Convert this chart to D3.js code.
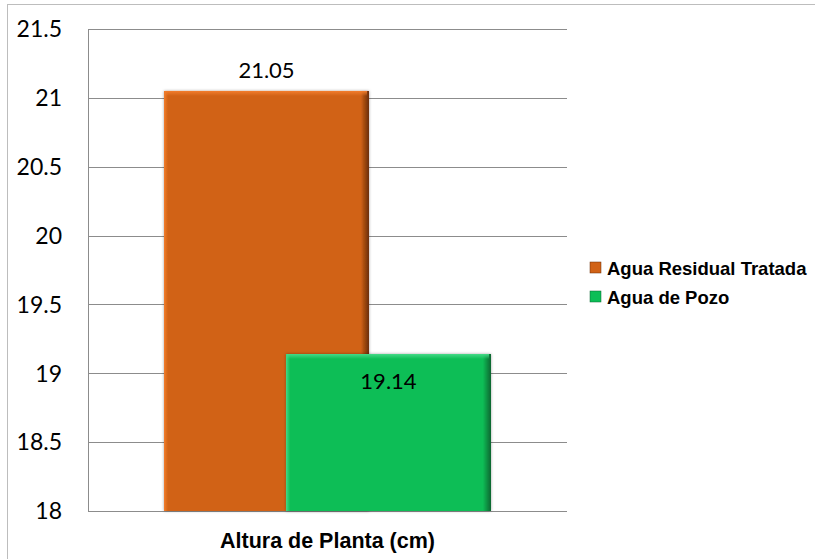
<!DOCTYPE html>
<html><head><meta charset="utf-8">
<script src="https://cdn.jsdelivr.net/npm/d3@7"></script>
<style>html,body{margin:0;padding:0;background:#fff;}svg{display:block;}</style>
</head><body>
<svg id="chart" width="815" height="559"></svg>
<script>
const categories = ["Altura de Planta (cm)"];
const seriesNames = ["Agua Residual Tratada", "Agua de Pozo"];
const seriesValues = [21.05, 19.14];
const seriesLabels = ["21.05", "19.14"];
const yTicks = [18, 18.5, 19, 19.5, 20, 20.5, 21, 21.5];
const yTickLabels = ["18", "18.5", "19", "19.5", "20", "20.5", "21", "21.5"];
const colors = [
  {base: "#D16216", light: "#F27D2C", dark: "#6A2D06"},
  {base: "#0BBE56", light: "#45D987", dark: "#0A6630"}
];

const svg = d3.select("#chart");
const defs = svg.append("defs");
colors.forEach((c, i) => {
  const g = defs.append("linearGradient").attr("id", "hg" + i).attr("x1", 0).attr("x2", 1).attr("y1", 0).attr("y2", 0);
  g.append("stop").attr("offset", "0%").attr("stop-color", c.light);
  g.append("stop").attr("offset", "2%").attr("stop-color", c.base);
  g.append("stop").attr("offset", "96%").attr("stop-color", c.base);
  g.append("stop").attr("offset", "100%").attr("stop-color", c.dark);
  const v = defs.append("linearGradient").attr("id", "vg" + i).attr("x1", 0).attr("x2", 0).attr("y1", 0).attr("y2", 1);
  v.append("stop").attr("offset", "0%").attr("stop-color", c.light).attr("stop-opacity", 1);
  v.append("stop").attr("offset", "100%").attr("stop-color", c.light).attr("stop-opacity", 0);
});
const f = defs.append("filter").attr("id", "sh").attr("x", "-10%").attr("y", "-10%").attr("width", "120%").attr("height", "120%");
f.append("feDropShadow").attr("dx", 0).attr("dy", 0).attr("stdDeviation", 1.5).attr("flood-color", "#000").attr("flood-opacity", 0.35);

// outer chart border
svg.append("rect").attr("x", 7.5).attr("y", 4.5).attr("width", 830).attr("height", 570)
  .attr("fill", "none").attr("stroke", "#BDBDBD").attr("stroke-width", 1);

const plot = {left: 88, right: 567, top: 29, bottom: 511};
const y = d3.scaleLinear().domain([18, 21.5]).range([plot.bottom, plot.top]);
const x = d3.scaleBand().domain(categories).range([plot.left, plot.right]).paddingInner(0).paddingOuter(0);
const barW = x.bandwidth() * 0.428;
const sx = d3.scalePoint().domain(seriesNames).range([-barW * 0.2975, barW * 0.2975]);

// gridlines
svg.append("g").selectAll("line").data(yTicks).join("line")
  .attr("x1", plot.left).attr("x2", plot.right)
  .attr("y1", d => Math.round(y(d)) + 0.5).attr("y2", d => Math.round(y(d)) + 0.5)
  .attr("stroke", "#8C8C8C").attr("stroke-width", 1);

// axis line
svg.append("line").attr("x1", plot.left + 0.5).attr("x2", plot.left + 0.5)
  .attr("y1", plot.top).attr("y2", plot.bottom + 0.5).attr("stroke", "#8C8C8C");

// y tick labels
svg.append("g").selectAll("text").data(yTicks).join("text")
  .attr("x", 62).attr("y", d => y(d)).attr("dy", "0.36em")
  .attr("text-anchor", "end").attr("font-family", "Lato, 'Open Sans', sans-serif")
  .attr("font-size", 23).attr("fill", "#000")
  .text((d, i) => yTickLabels[i]);

// bars
const cat = categories[0];
const bars = svg.append("g");
seriesNames.forEach((s, i) => {
  const cx = x(cat) + x.bandwidth() / 2 + sx(s);
  const x0 = cx - barW / 2;
  const top = y(seriesValues[i]);
  const h = y(18) - top;
  const g = bars.append("g");
  g.append("rect").attr("x", x0).attr("y", top).attr("width", barW).attr("height", h)
    .attr("fill", "url(#hg" + i + ")").attr("filter", "url(#sh)");
  g.append("rect").attr("x", x0 + 1).attr("y", top).attr("width", barW - 3).attr("height", 5)
    .attr("fill", "url(#vg" + i + ")");
});

// data labels
seriesNames.forEach((s, i) => {
  const cx = x(cat) + x.bandwidth() / 2 + sx(s);
  const top = y(seriesValues[i]);
  svg.append("text").attr("x", cx).attr("y", i === 0 ? top - 21 : top + 27).attr("dy", "0.36em")
    .attr("text-anchor", "middle").attr("font-family", "Lato, 'Open Sans', sans-serif")
    .attr("font-size", 22).attr("fill", "#000").text(seriesLabels[i]);
});

// x category label
svg.append("text").attr("x", x(cat) + x.bandwidth() / 2).attr("y", 548)
  .attr("text-anchor", "middle").attr("font-family", "Arial, 'Liberation Sans', sans-serif")
  .attr("font-weight", "bold").attr("font-size", 21.5).attr("fill", "#000").text(cat);

// legend
const leg = svg.append("g");
seriesNames.forEach((s, i) => {
  const yy = 268 + i * 29;
  leg.append("rect").attr("x", 590).attr("y", yy - 6).attr("width", 11).attr("height", 11)
    .attr("fill", "url(#hg" + i + ")").attr("stroke", colors[i].dark).attr("stroke-width", 0.5);
  leg.append("text").attr("x", 607).attr("y", yy).attr("dy", "0.36em")
    .attr("font-family", "Arial, 'Liberation Sans', sans-serif").attr("font-weight", "bold")
    .attr("font-size", 18.5).attr("fill", "#000").text(s);
});
</script>
</body></html>
